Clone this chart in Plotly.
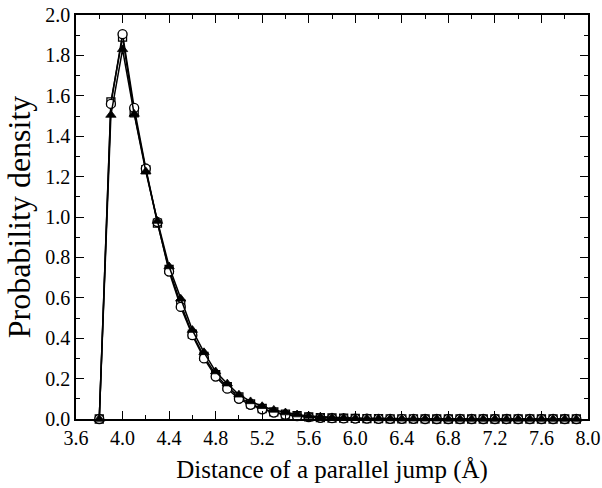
import plotly.graph_objects as go

# Jump distance grid (Å)
distance = [round(3.8 + 0.1 * i, 1) for i in range(42)]

# Probability density for the three data sets
density_square = [0.0, 1.57, 1.89, 1.515, 1.235, 0.97, 0.74, 0.57, 0.42, 0.31, 0.22, 0.16, 0.11,
                  0.075, 0.052, 0.035, 0.024, 0.016, 0.011, 0.007, 0.005, 0.004, 0.003, 0.002,
                  0.002, 0.001, 0.001, 0.001, 0.001, 0.0, 0.0, 0.0, 0.0, 0.0, 0.0, 0.0, 0.0,
                  0.0, 0.0, 0.0, 0.0, 0.0]
density_circle = [0.0, 1.56, 1.905, 1.54, 1.24, 0.975, 0.73, 0.555, 0.415, 0.30, 0.21, 0.15, 0.10,
                  0.07, 0.048, 0.032, 0.021, 0.014, 0.009, 0.006, 0.004, 0.003, 0.002, 0.002,
                  0.001, 0.001, 0.001, 0.001, 0.0, 0.0, 0.0, 0.0, 0.0, 0.0, 0.0, 0.0, 0.0,
                  0.0, 0.0, 0.0, 0.0, 0.0]
density_triangle = [0.0, 1.505, 1.83, 1.51, 1.225, 0.98, 0.755, 0.595, 0.44, 0.33, 0.235, 0.175,
                    0.12, 0.087, 0.063, 0.045, 0.032, 0.022, 0.015, 0.011, 0.008, 0.006, 0.004,
                    0.003, 0.002, 0.002, 0.001, 0.001, 0.001, 0.001, 0.0, 0.0, 0.0, 0.0, 0.0,
                    0.0, 0.0, 0.0, 0.0, 0.0, 0.0, 0.0]

x_ticks = [3.6, 4.0, 4.4, 4.8, 5.2, 5.6, 6.0, 6.4, 6.8, 7.2, 7.6, 8.0]
y_ticks = [0.0, 0.2, 0.4, 0.6, 0.8, 1.0, 1.2, 1.4, 1.6, 1.8, 2.0]

FONT = "Liberation Serif"

fig = go.Figure()

series = [
    (density_square, dict(symbol="square", size=8, color="white", line=dict(color="black", width=1.3))),
    (density_circle, dict(symbol="circle", size=9, color="white", line=dict(color="black", width=1.3))),
    (density_triangle, dict(symbol="triangle-up", size=9, color="black", line=dict(color="black", width=0.8))),
]
for values, marker in series:
    fig.add_trace(go.Scatter(
        x=distance, y=values, mode="lines+markers",
        line=dict(color="black", width=1.5),
        marker=marker, showlegend=False, cliponaxis=False,
    ))

axis_common = dict(
    showline=True, linecolor="black", linewidth=1.5, mirror="allticks",
    ticks="inside", ticklen=8, tickwidth=1.2, tickcolor="black",
    showgrid=False, zeroline=False, automargin=False,
    tickfont=dict(family=FONT, size=20, color="black"),
)

fig.update_xaxes(
    range=[3.6, 8.0], tickvals=x_ticks, ticktext=[f"{v:.1f}" for v in x_ticks],
    minor=dict(ticks="inside", ticklen=4, tickwidth=1.2, tickcolor="black", dtick=0.2, tick0=3.6),
    title=dict(text="Distance of a parallel jump (Å)", font=dict(family=FONT, size=25, color="black"), standoff=13),
    **axis_common,
)
fig.update_yaxes(
    range=[0, 2.0], tickvals=y_ticks, ticktext=[f"{v:.1f}" for v in y_ticks],
    minor=dict(ticks="inside", ticklen=4, tickwidth=1.2, tickcolor="black", dtick=0.1, tick0=0),
    title=dict(text="Probability density", font=dict(family=FONT, size=32, color="black"), standoff=5),
    **axis_common,
)

fig.update_layout(
    width=602, height=488,
    margin=dict(l=76, r=14, t=15, b=69),
    paper_bgcolor="white", plot_bgcolor="white",
)

fig.write_html("out.html")
